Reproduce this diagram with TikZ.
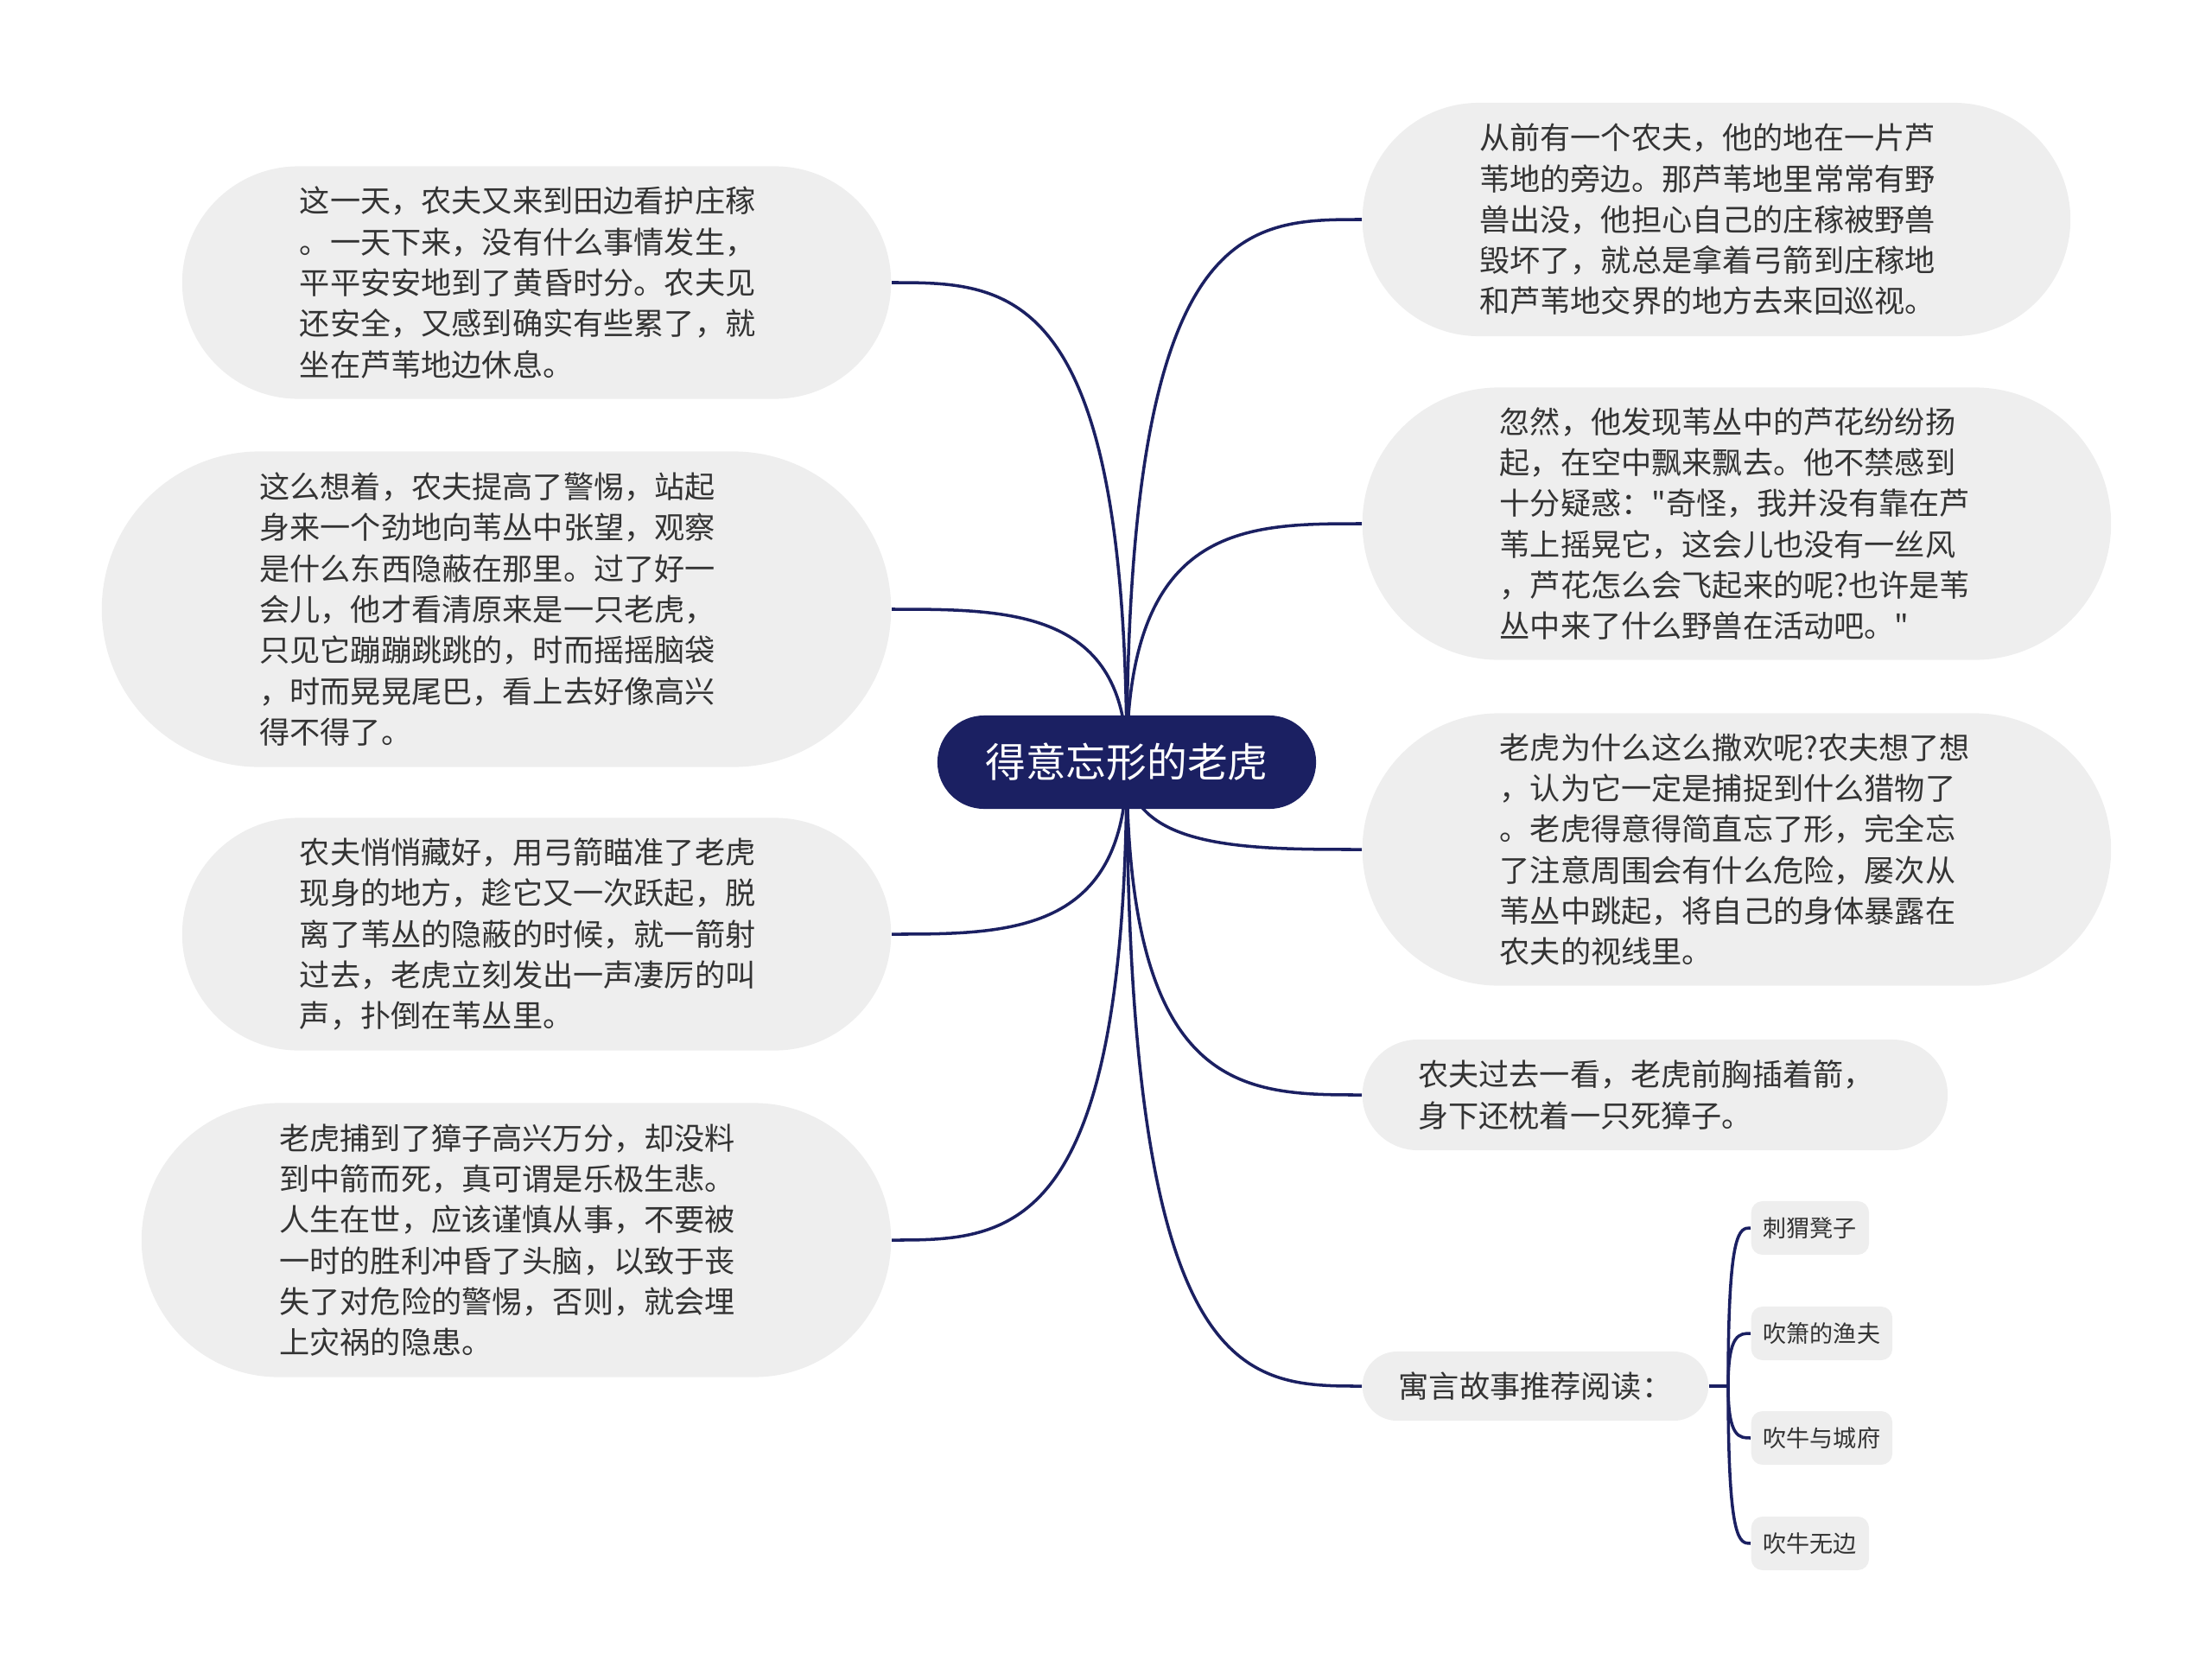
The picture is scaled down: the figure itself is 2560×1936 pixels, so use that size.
\documentclass[tikz,border=0pt]{standalone}
\usepackage{fontspec}
\newfontfamily\cjk{Noto Sans CJK SC}
\usetikzlibrary{calc,backgrounds}

\definecolor{rootblue}{HTML}{1B2062}
\definecolor{leafgray}{HTML}{EEEEEE}
\definecolor{inkgray}{HTML}{333333}

\tikzset{
  root/.style={fill=rootblue, text=white, inner sep=0pt,
    minimum width=4.38cm, minimum height=1.08cm, rounded corners=0.54cm,
    font=\cjk\fontsize{13.3pt}{16pt}\selectfont},
  leaf/.style={fill=leafgray, text=inkgray, inner sep=0pt,
    align=left, text width=5.48cm,
    font=\cjk\fontsize{10pt}{13.45pt}\selectfont},
  capsule/.style 2 args={minimum width=#1, minimum height=#2, rounded corners=#2/2},
  readbox/.style={fill=leafgray, text=inkgray, inner xsep=0.42cm, inner ysep=0pt,
    minimum height=0.8cm, rounded corners=0.4cm,
    font=\cjk\fontsize{10pt}{13.45pt}\selectfont},
  sub/.style={fill=leafgray, text=inkgray, inner xsep=0.14cm, inner ysep=0pt,
    minimum height=0.62cm, rounded corners=0.13cm,
    font=\cjk\fontsize{7.7pt}{9pt}\selectfont},
  link/.style={draw=rootblue, line width=1pt},
  branch/.style={to path={.. controls (\tikztostart |- \tikztotarget)
    and ($(\tikztostart |- \tikztotarget)!0.5!(\tikztotarget)$) .. (\tikztotarget)}}
}

\begin{document}
\begin{tikzpicture}[x=0.01cm, y=-0.01cm]
  \useasboundingbox (0,0) rectangle (2560,1936);

  \node[root] (root) at (1304,882) {得意忘形的老虎};

  % left side
  \node[leaf, capsule={8.2cm}{2.69cm}, anchor=east] (l1) at (1032,327)
    {这一天，农夫又来到田边看护庄稼\\。一天下来，没有什么事情发生，\\平平安安地到了黄昏时分。农夫见\\还安全，又感到确实有些累了，就\\坐在芦苇地边休息。};
  \node[leaf, capsule={9.13cm}{3.65cm}, anchor=east] (l2) at (1032,705)
    {这么想着，农夫提高了警惕，站起\\身来一个劲地向苇丛中张望，观察\\是什么东西隐蔽在那里。过了好一\\会儿，他才看清原来是一只老虎，\\只见它蹦蹦跳跳的，时而摇摇脑袋\\，时而晃晃尾巴，看上去好像高兴\\得不得了。};
  \node[leaf, capsule={8.2cm}{2.69cm}, anchor=east] (l3) at (1032,1081)
    {农夫悄悄藏好，用弓箭瞄准了老虎\\现身的地方，趁它又一次跃起，脱\\离了苇丛的隐蔽的时候，就一箭射\\过去，老虎立刻发出一声凄厉的叫\\声，扑倒在苇丛里。};
  \node[leaf, capsule={8.67cm}{3.17cm}, anchor=east] (l4) at (1032,1435)
    {老虎捕到了獐子高兴万分，却没料\\到中箭而死，真可谓是乐极生悲。\\人生在世，应该谨慎从事，不要被\\一时的胜利冲昏了头脑，以致于丧\\失了对危险的警惕，否则，就会埋\\上灾祸的隐患。};

  % right side
  \node[leaf, capsule={8.19cm}{2.7cm}, anchor=west] (r1) at (1576,254)
    {从前有一个农夫，他的地在一片芦\\苇地的旁边。那芦苇地里常常有野\\兽出没，他担心自己的庄稼被野兽\\毁坏了，就总是拿着弓箭到庄稼地\\和芦苇地交界的地方去来回巡视。};
  \node[leaf, capsule={8.66cm}{3.15cm}, anchor=west] (r2) at (1576,606)
    {忽然，他发现苇丛中的芦花纷纷扬\\起，在空中飘来飘去。他不禁感到\\十分疑惑："奇怪，我并没有靠在芦\\苇上摇晃它，这会儿也没有一丝风\\，芦花怎么会飞起来的呢?也许是苇\\丛中来了什么野兽在活动吧。"};
  \node[leaf, capsule={8.66cm}{3.15cm}, anchor=west] (r3) at (1576,983)
    {老虎为什么这么撒欢呢?农夫想了想\\，认为它一定是捕捉到什么猎物了\\。老虎得意得简直忘了形，完全忘\\了注意周围会有什么危险，屡次从\\苇丛中跳起，将自己的身体暴露在\\农夫的视线里。};
  \node[leaf, capsule={6.77cm}{1.28cm}, anchor=west] (r4) at (1576,1267)
    {农夫过去一看，老虎前胸插着箭，\\身下还枕着一只死獐子。};
  \node[readbox, anchor=west] (read) at (1576,1604) {寓言故事推荐阅读：};

  % further reading
  \coordinate (fork) at (2000,1604);
  \node[sub, anchor=west] (s1) at (2026,1421) {刺猬凳子};
  \node[sub, anchor=west] (s2) at (2026,1543) {吹箫的渔夫};
  \node[sub, anchor=west] (s3) at (2026,1664) {吹牛与城府};
  \node[sub, anchor=west] (s4) at (2026,1786) {吹牛无边};

  \begin{scope}[on background layer]
    \foreach \n in {l1,l2,l3,l4}
      \draw[link] (root.center) to[branch] (\n.east);
    \foreach \n in {r1,r2,r3,r4,read}
      \draw[link] (root.center) to[branch] (\n.west);
    \draw[link] (read.east) -- (fork);
    \foreach \n in {s1,s2,s3,s4}
      \draw[link] (fork) to[branch] (\n.west);
  \end{scope}
\end{tikzpicture}
\end{document}
